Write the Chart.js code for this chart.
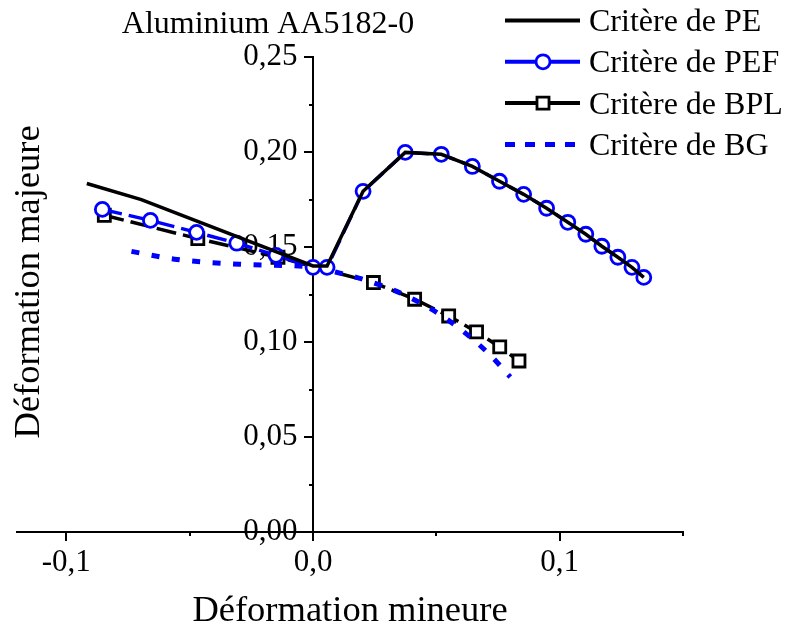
<!DOCTYPE html>
<html>
<head>
<meta charset="utf-8">
<script src="https://cdn.jsdelivr.net/npm/chart.js@4.4.0/dist/chart.umd.min.js"></script>
<style>
  html, body { margin: 0; padding: 0; background: #fff; }
  #wrap { width: 790px; height: 629px; }
</style>
</head>
<body>
<div id="wrap"><canvas id="chart" width="790" height="629"></canvas></div>
<script>
// valeurs (déformation mineure / majeure)
const peX = [-0.0917, -0.0696, 0.0, 0.0057, 0.0203, 0.0374, 0.0520, 0.0646, 0.0756, 0.0854, 0.0947, 0.1033, 0.1106, 0.1171, 0.1236, 0.1293, 0.1341];
const peY = [0.1834, 0.1749, 0.1400, 0.1400, 0.1793, 0.1998, 0.1988, 0.1924, 0.1846, 0.1777, 0.1704, 0.1630, 0.1567, 0.1504, 0.1446, 0.1393, 0.1340];

const pefX = [-0.0854, -0.0659, -0.0472, -0.0309, -0.0150, 0.0, 0.0057, 0.0203, 0.0374, 0.0520, 0.0646, 0.0756, 0.0854, 0.0947, 0.1033, 0.1106, 0.1171, 0.1236, 0.1293, 0.1341];
const pefY = [0.1698, 0.1640, 0.1577, 0.1520, 0.1456, 0.1393, 0.1393, 0.1793, 0.1998, 0.1988, 0.1924, 0.1846, 0.1777, 0.1704, 0.1630, 0.1567, 0.1504, 0.1446, 0.1393, 0.1340];

const bplX = [-0.0846, -0.0467, -0.0142, 0.0245, 0.0412, 0.0550, 0.0663, 0.0757, 0.0835];
const bplY = [0.1667, 0.1544, 0.1446, 0.1313, 0.1225, 0.1137, 0.1053, 0.0974, 0.0900];

const bgX = [-0.0736, -0.0561, -0.0297, 0.0, 0.0117, 0.0203, 0.0374, 0.0537, 0.0706, 0.0800];
const bgY = [0.1477, 0.1436, 0.1409, 0.1393, 0.1360, 0.1330, 0.1246, 0.1125, 0.0947, 0.0816];

const seriesNames = ['Critère de PE', 'Critère de PEF', 'Critère de BPL', 'Critère de BG'];

// graduations
const xMajorTicks = [-0.1, 0, 0.1];
const xMinorTicks = [-0.1, -0.05, 0, 0.05, 0.1, 0.15];
const yMajorTicks = [0, 0.05, 0.10, 0.15, 0.20, 0.25];
const yMinorTicks = [0, 0.025, 0.05, 0.075, 0.10, 0.125, 0.15, 0.175, 0.20, 0.225, 0.25];

const FONT = "'Liberation Serif', 'Times New Roman', serif";

const pts = (xs, ys) => xs.map((x, i) => ({ x, y: ys[i] }));
const setTicks = arr => s => { s.ticks = arr.map(v => ({ value: v })); };

// légende, titre et titres d'axes dessinés sur le canvas
const decor = {
  id: 'decor',
  afterDraw(chart) {
    const ctx = chart.ctx;
    ctx.save();
    ctx.fillStyle = '#000';

    ctx.font = '32px ' + FONT;
    ctx.textAlign = 'center';
    ctx.textBaseline = 'alphabetic';
    ctx.fillText('Aluminium AA5182-0', 268, 33);

    ctx.font = '36.5px ' + FONT;
    ctx.fillText('Déformation mineure', 350, 621);
    ctx.save();
    ctx.translate(39, 282);
    ctx.rotate(-Math.PI / 2);
    ctx.fillText('Déformation majeure', 0, 0);
    ctx.restore();

    // légende
    chart.data.datasets.forEach((ds, i) => {
      const y = 20.5 + i * 41.3;
      ctx.save();
      ctx.strokeStyle = ds.borderColor;
      ctx.lineWidth = ds.legendWidth;
      ctx.setLineDash(ds.legendDash || []);
      ctx.beginPath();
      ctx.moveTo(505, y);
      ctx.lineTo(580, y);
      ctx.stroke();
      ctx.setLineDash([]);
      if (ds.pointRadius > 0) {
        ctx.fillStyle = '#fff';
        ctx.strokeStyle = ds.pointBorderColor;
        ctx.lineWidth = ds.pointBorderWidth;
        ctx.beginPath();
        if (ds.pointStyle === 'rect') {
          const h = ds.pointRadius * Math.SQRT1_2;
          ctx.rect(543 - h, y - h, 2 * h, 2 * h);
        } else {
          ctx.arc(543, y, ds.pointRadius, 0, Math.PI * 2);
        }
        ctx.fill();
        ctx.stroke();
      }
      ctx.restore();
      ctx.font = '32px ' + FONT;
      ctx.textAlign = 'left';
      ctx.fillStyle = '#000';
      ctx.fillText(ds.label, 589, y + 10.5);
    });
    ctx.restore();
  }
};

const axisCommon = {
  type: 'linear',
  bounds: 'data',
  border: { display: true, color: '#000', width: 2 },
  grid: { drawOnChartArea: false, drawTicks: true, color: '#000', lineWidth: 2 }
};

new Chart(document.getElementById('chart'), {
  type: 'line',
  data: {
    datasets: [
      {
        label: seriesNames[0], data: pts(peX, peY), order: 0,
        borderColor: '#000000', borderWidth: 3.5, legendWidth: 4, pointRadius: 0, fill: false
      },
      {
        label: seriesNames[1], data: pts(pefX, pefY), order: 1,
        borderColor: '#0000ff', borderWidth: 3.5, borderDash: [20, 7], legendDash: [], legendWidth: 4,
        pointStyle: 'circle', pointRadius: 7, pointBorderWidth: 2.8,
        pointBorderColor: '#0000ff', pointBackgroundColor: '#ffffff', fill: false
      },
      {
        label: seriesNames[2], data: pts(bplX, bplY), order: 3,
        borderColor: '#000000', borderWidth: 3.5, borderDash: [20, 7], legendDash: [], legendWidth: 4,
        pointStyle: 'rect', pointRadius: 8.5, pointBorderWidth: 2.8,
        pointBorderColor: '#000000', pointBackgroundColor: '#ffffff', fill: false
      },
      {
        label: seriesNames[3], data: pts(bgX, bgY), order: 2,
        borderColor: '#0000ff', borderWidth: 5, borderDash: [8, 12.5], legendDash: [10, 10], legendWidth: 5,
        borderCapStyle: 'butt', cubicInterpolationMode: 'monotone', pointRadius: 0, fill: false
      }
    ]
  },
  options: {
    responsive: false,
    animation: false,
    layout: { padding: { left: 17, right: 107, top: 57, bottom: 97 } },
    plugins: { legend: { display: false }, tooltip: { enabled: false } },
    scales: {
      x: {
        ...axisCommon, min: -0.12, max: 0.15, position: { y: 0 },
        grid: { ...axisCommon.grid, tickLength: 8 },
        afterBuildTicks: setTicks(xMajorTicks),
        ticks: {
          color: '#000', padding: 4, maxRotation: 0, autoSkip: false,
          font: { family: FONT, size: 31 },
          callback: v => v.toFixed(1).replace('.', ',')
        }
      },
      xMinor: {
        ...axisCommon, min: -0.12, max: 0.15, position: { y: 0 }, axis: 'x',
        border: { display: false },
        grid: { ...axisCommon.grid, tickLength: 4 },
        afterBuildTicks: setTicks(xMinorTicks),
        ticks: { display: false }
      },
      y: {
        ...axisCommon, min: 0, max: 0.25, position: { x: 0 },
        grid: { ...axisCommon.grid, tickLength: 8 },
        afterBuildTicks: setTicks(yMajorTicks),
        ticks: {
          color: '#000', padding: 8, autoSkip: false,
          font: { family: FONT, size: 31 },
          // l'espace final décale le libellé à gauche des graduations
          callback: v => v.toFixed(2).replace('.', ',') + '\u2002'
        }
      },
      yMinor: {
        ...axisCommon, min: 0, max: 0.25, position: { x: 0 }, axis: 'y',
        border: { display: false },
        grid: { ...axisCommon.grid, tickLength: 4 },
        afterBuildTicks: setTicks(yMinorTicks),
        ticks: { display: false }
      }
    }
  },
  plugins: [decor]
});
</script>
</body>
</html>
